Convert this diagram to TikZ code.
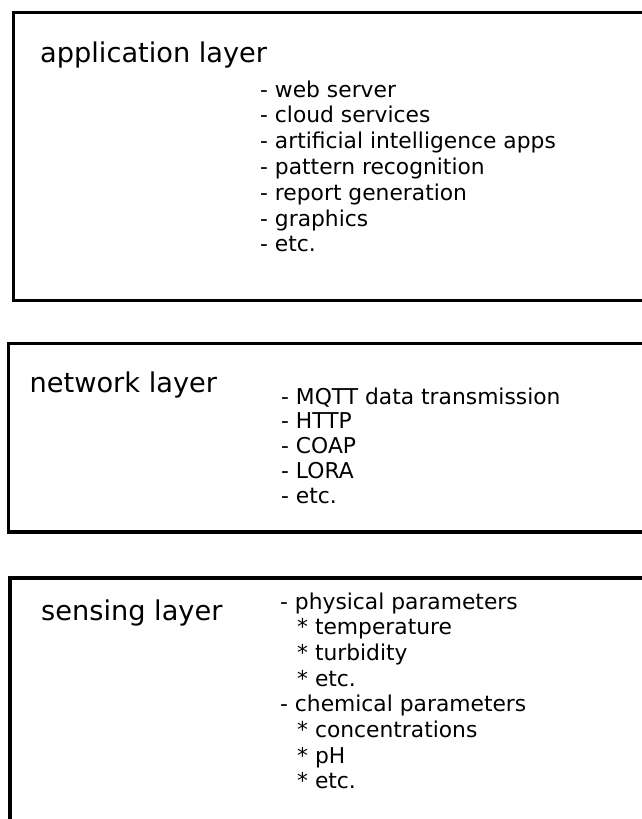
\documentclass[tikz,border=0pt]{standalone}
\usepackage{fontspec}
\setmainfont{DejaVu Sans}
\usepackage{tikz}

\begin{document}
\begin{tikzpicture}[
  x=1pt, y=-1pt,
  line join=miter,
  layer/.style={draw=black, line width=3.9pt},
  title/.style={anchor=base west, inner sep=0pt, font=\fontsize{27.2}{32}\selectfont},
  item/.style={anchor=base west, inner sep=0pt, font=\fontsize{21.8}{26}\selectfont}
]
  \useasboundingbox (0,0) rectangle (642,819);
  \clip (0,0) rectangle (642,819);

  % Layer frames (they run past the right edge, the last one past the bottom)
  \coordinate (appNW) at (13.5,12.5);
  \coordinate (appSE) at (670,300.5);
  \coordinate (netNW) at (8.5,343.5);
  \coordinate (netSE) at (670,532);
  \coordinate (senNW) at (10,578);
  \coordinate (senSE) at (670,850);

  \draw[layer] (appNW) rectangle (appSE);
  \draw[layer] (netNW) rectangle (netSE);
  \draw[layer] (senNW) rectangle (senSE);

  % Application layer
  \node[title] (appTitle) at (40,62) {application layer};
  \foreach \txt [count=\i from 0] in {web server, cloud services,
      artificial intelligence apps, pattern recognition,
      report generation, graphics, etc.}{
    \node[item] (app\i) at (260,97+25.8*\i) {- \txt};
  }

  % Network layer
  \node[title] (netTitle) at (29.5,392) {network layer};
  \foreach \txt [count=\i from 0] in {MQTT data transmission, HTTP, COAP, LORA, etc.}{
    \node[item] (net\i) at (281,404+24.8*\i) {- \txt};
  }

  % Sensing layer
  \node[title] (senTitle) at (41,620) {sensing layer};
  \foreach \dx/\mk/\txt [count=\i from 0] in {
      0/-/physical parameters, 17/*/temperature, 17/*/turbidity, 17/*/etc.,
      0/-/chemical parameters, 17/*/concentrations, 17/*/pH, 17/*/etc.}{
    \node[item] (sen\i) at (280+\dx,609+25.7*\i) {\mk\ \txt};
  }
\end{tikzpicture}
\end{document}
